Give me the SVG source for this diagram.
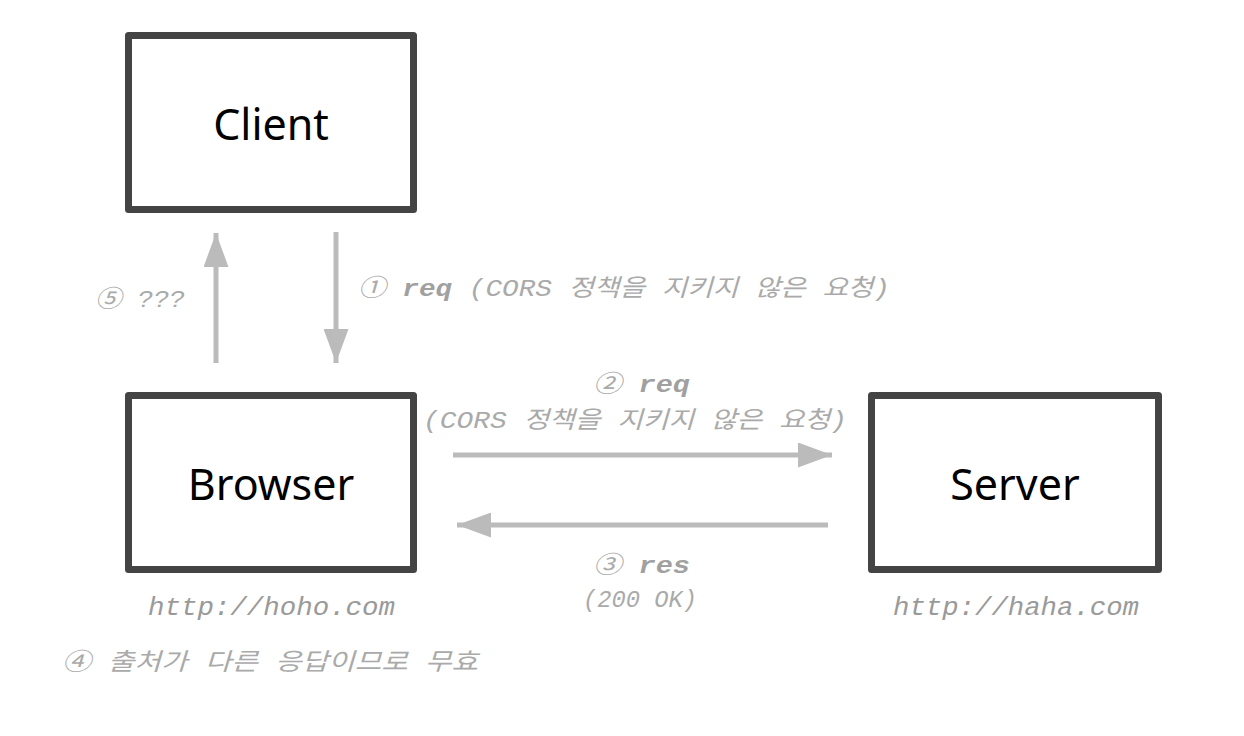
<svg xmlns="http://www.w3.org/2000/svg" width="1244" height="736" viewBox="0 0 1244 736">
<defs>
<marker id="ah" viewBox="0 0 34 25" refX="34" refY="12.5" markerWidth="34" markerHeight="25" markerUnits="userSpaceOnUse" orient="auto">
<path d="M0,0 L34,12.5 L0,25 Z" fill="#bbbbbb"/>
</marker>
</defs>
<style>
.box{fill:#ffffff;stroke:#444444;stroke-width:7;stroke-linejoin:round}
.name{font-family:"Noto Sans","Noto Sans CJK KR",sans-serif;font-size:43px;fill:#000000;text-anchor:middle}
.lbl{font-family:"Liberation Mono","Noto Sans CJK KR",monospace;font-style:italic;font-size:24px;fill:#aaaaaa}
.url{font-family:"Liberation Mono","Noto Sans CJK KR",monospace;font-style:italic;font-size:26px;fill:#9a9a9a}
.b{font-weight:bold;fill:#a0a0a0}
.conn{stroke:#bbbbbb;stroke-width:5;fill:none}
</style>
<rect width="1244" height="736" fill="#ffffff"/>
<g id="client">
<rect class="box" x="128.5" y="35.5" width="285" height="174"/>
<text class="name" x="271" y="140">Client</text>
</g>
<g id="browser">
<rect class="box" x="128.5" y="395.5" width="285" height="174"/>
<text class="name" x="271" y="500">Browser</text>
<text class="url" x="148" y="615" textLength="247" lengthAdjust="spacingAndGlyphs">http://hoho.com</text>
</g>
<g id="server">
<rect class="box" x="871.5" y="395.5" width="287" height="174"/>
<text class="name" x="1015" y="500">Server</text>
<text class="url" x="893" y="615" textLength="246" lengthAdjust="spacingAndGlyphs">http://haha.com</text>
</g>
<g id="connectors">
<line class="conn" x1="336" y1="232" x2="336" y2="363" marker-end="url(#ah)"/>
<line class="conn" x1="216" y1="363" x2="216" y2="233" marker-end="url(#ah)"/>
<line class="conn" x1="453" y1="455" x2="832" y2="455" marker-end="url(#ah)"/>
<line class="conn" x1="828" y1="525" x2="457" y2="525" marker-end="url(#ah)"/>
</g>
<g id="labels">
<text class="lbl" x="358" y="296" textLength="532" lengthAdjust="spacingAndGlyphs">① <tspan class="b">req</tspan> (CORS 정책을 지키지 않은 요청)</text>
<text class="lbl" x="95" y="307" textLength="90" lengthAdjust="spacingAndGlyphs">⑤ ???</text>
<text class="lbl" x="593" y="392" textLength="97" lengthAdjust="spacingAndGlyphs">② <tspan class="b">req</tspan></text>
<text class="lbl" x="423" y="428" textLength="424" lengthAdjust="spacingAndGlyphs">(CORS 정책을 지키지 않은 요청)</text>
<text class="lbl" x="593" y="573" textLength="97" lengthAdjust="spacingAndGlyphs">③ <tspan class="b">res</tspan></text>
<text class="lbl" x="583" y="607" textLength="114" lengthAdjust="spacingAndGlyphs">(200 OK)</text>
<text class="lbl" x="62" y="670" textLength="416" lengthAdjust="spacingAndGlyphs">④ 출처가 다른 응답이므로 무효</text>
</g>
</svg>
